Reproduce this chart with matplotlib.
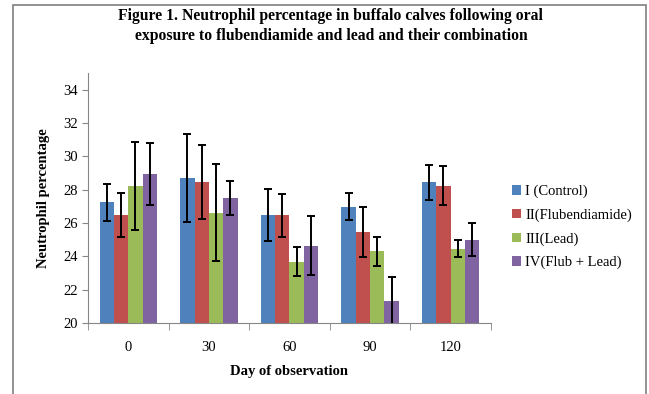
import numpy as np
import matplotlib
matplotlib.use("Agg")
import matplotlib.pyplot as plt
from matplotlib.patches import Rectangle

# datos
dias = ["0", "30", "60", "90", "120"]
grupos = ["I (Control)", "II(Flubendiamide)", "III(Lead)", "IV(Flub + Lead)"]

control = [27.24, 28.70, 26.46, 26.98, 28.44]
flub = [26.48, 28.46, 26.46, 25.48, 28.24]
plomo = [28.24, 26.62, 23.68, 24.30, 24.46]
combinado = [28.96, 27.50, 24.64, 21.32, 25.00]

err_control = [1.10, 2.66, 1.56, 0.80, 1.03]
err_flub = [1.32, 2.22, 1.31, 1.51, 1.16]
err_plomo = [2.65, 2.90, 0.87, 0.89, 0.51]
err_combinado = [1.87, 1.02, 1.76, 1.46, 1.00]

colores = ["#4F81BD", "#C0504D", "#9BBB59", "#8064A2"]

plt.rcParams["font.family"] = ["Liberation Serif", "DejaVu Serif"]

fig = plt.figure(figsize=(6.49, 3.94), dpi=100)
ax = fig.add_axes([0.1356, 0.1802, 0.6209, 0.6345])

# marco de la figura
fig.patches.append(Rectangle((13 / 649, -0.05), 633 / 649, 1.037, transform=fig.transFigure,
                             fill=False, edgecolor="#7f7f7f", linewidth=1.2))

x = np.arange(len(dias))
ancho = 0.178
series = [control, flub, plomo, combinado]
errores = [err_control, err_flub, err_plomo, err_combinado]
for i in range(4):
    pos = x + (i - 1.5) * ancho
    ax.bar(pos, series[i], ancho, bottom=0, color=colores[i], label=grupos[i],
           edgecolor="none", zorder=2)
    ax.errorbar(pos, series[i], yerr=errores[i], fmt="none", ecolor="black",
                elinewidth=1.4, capsize=3, capthick=1.4, zorder=3)

ax.set_ylim(20, 35)
ax.set_xlim(-0.5, len(dias) - 0.5)
ax.set_yticks(np.arange(20, 35, 2))
ax.set_xticks(x)
ax.set_xticklabels(dias)
ax.set_xticks(np.arange(-0.5, len(dias), 1), minor=True)
ax.tick_params(axis="x", which="major", length=0, pad=13, labelsize=10.5)
ax.tick_params(axis="x", which="minor", length=5, color="#868686")
ax.tick_params(axis="y", length=4, color="#868686", labelsize=10.5, pad=3)

for lado in ["top", "right"]:
    ax.spines[lado].set_visible(False)
ax.spines["left"].set_color("#868686")
ax.spines["bottom"].set_color("#868686")

ax.set_ylabel("Neutrophil percentage", fontsize=10.5, fontweight="bold", labelpad=10)
ax.set_xlabel("Day of observation", fontsize=10.5, fontweight="bold", labelpad=8)

fig.text(0.51, 0.934, "Figure 1. Neutrophil percentage in buffalo calves following oral\n"
         "exposure to flubendiamide and lead and their combination",
         ha="center", va="center", fontsize=11.3, fontweight="bold", linespacing=1.4)

ax.legend(loc="center left", bbox_to_anchor=(1.02, 0.384), frameon=False, fontsize=10.5,
          handlelength=0.6, handleheight=0.6, handletextpad=0.3, labelspacing=0.7)

fig.savefig("out.png", dpi=100)
